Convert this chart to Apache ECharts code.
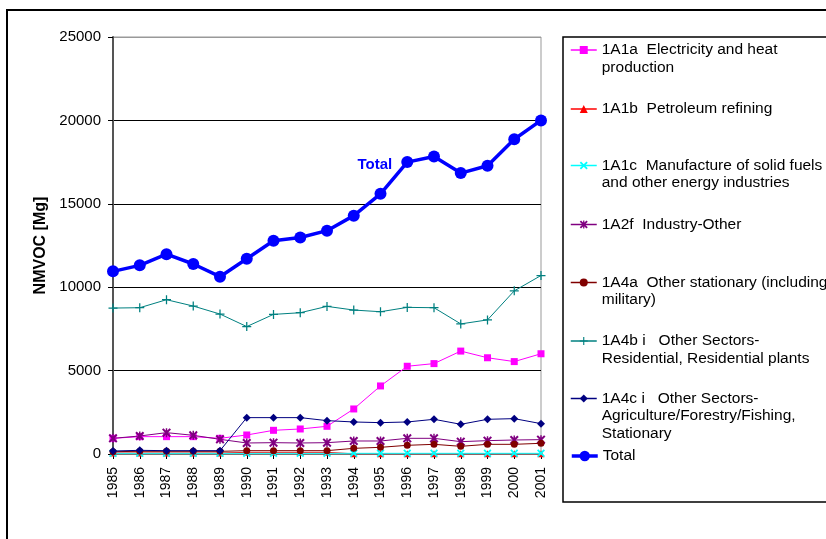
<!DOCTYPE html>
<html>
<head>
<meta charset="utf-8">
<script src="https://cdn.jsdelivr.net/npm/echarts@6/dist/echarts.min.js"></script>
<style>
  html, body { margin: 0; padding: 0; background: #fff; }
  #chart { width: 826px; height: 539px; }
</style>
</head>
<body>
<div id="chart"></div>
<script>
// NMVOC emissions by source category, 1985-2001 (Mg)
const years = ['1985','1986','1987','1988','1989','1990','1991','1992','1993','1994','1995','1996','1997','1998','1999','2000','2001'];

const electricityHeat   = [940, 1040, 1040, 1040, 940, 1140, 1420, 1500, 1660, 2700, 4080, 5260, 5420, 6170, 5770, 5540, 6010];
const petroleumRefining = [60, 60, 60, 60, 60, 100, 100, 100, 100, 10, 10, 10, 10, 10, 10, 10, 10];
const solidFuels        = [40, 40, 40, 40, 40, 40, 40, 40, 40, 40, 40, 40, 40, 40, 40, 40, 40];
const industryOther     = [940, 1080, 1280, 1120, 880, 660, 680, 660, 680, 780, 780, 940, 940, 740, 800, 840, 860];
const otherStationary   = [140, 160, 160, 160, 160, 200, 200, 200, 200, 340, 400, 520, 580, 460, 580, 580, 640];
const residential       = [8750, 8770, 9250, 8870, 8390, 7640, 8370, 8470, 8850, 8630, 8530, 8790, 8770, 7800, 8040, 9780, 10700];
const agriculture       = [180, 220, 200, 200, 200, 2180, 2180, 2180, 2000, 1920, 1880, 1920, 2080, 1780, 2080, 2120, 1820];
const total             = [10950, 11310, 11980, 11390, 10630, 11710, 12780, 12980, 13390, 14290, 15600, 17500, 17840, 16840, 17280, 18870, 20000];

const seriesNames = [
  '1A1a  Electricity and heat\nproduction',
  '1A1b  Petroleum refining',
  '1A1c  Manufacture of solid fuels\nand other energy industries',
  '1A2f  Industry-Other',
  '1A4a  Other stationary (including\nmilitary)',
  '1A4b i   Other Sectors-\nResidential, Residential plants',
  '1A4c i   Other Sectors-\nAgriculture/Forestry/Fishing,\nStationary',
  'Total'
];
const yTicks = [0, 5000, 10000, 15000, 20000, 25000];
const totalLabelYear = '1996';

const FONT = '"Liberation Sans", Arial, sans-serif';

// marker shapes
const SYM_X = 'path://M1.6,0L5,3.4L8.4,0L10,1.6L6.6,5L10,8.4L8.4,10L5,6.6L1.6,10L0,8.4L3.4,5L0,1.6Z';
const SYM_STAR = 'path://M1.6,0L5,3.4L8.4,0L10,1.6L6.6,5L10,8.4L8.4,10L5,6.6L1.6,10L0,8.4L3.4,5L0,1.6Z M4.2,0L5.8,0L5.8,10L4.2,10Z';
const SYM_PLUS = 'path://M4.3,0L5.7,0L5.7,4.3L10,4.3L10,5.7L5.7,5.7L5.7,10L4.3,10L4.3,5.7L0,5.7L0,4.3L4.3,4.3Z';

const styles = [
  { color: '#FF00FF', symbol: 'rect', size: 7, width: 1 },
  { color: '#FF0000', symbol: 'triangle', size: 7, width: 1 },
  { color: '#00FFFF', symbol: SYM_X, size: 8, width: 1 },
  { color: '#800080', symbol: SYM_STAR, size: 9, width: 1 },
  { color: '#800000', symbol: 'circle', size: 7, width: 1 },
  { color: '#008080', symbol: SYM_PLUS, size: 9, width: 1 },
  { color: '#000080', symbol: 'diamond', size: 8, width: 1 },
  { color: '#0000FF', symbol: 'circle', size: 12, width: 3.5 }
];
const values = [electricityHeat, petroleumRefining, solidFuels, industryOther, otherStationary, residential, agriculture, total];

// legend layout: centre of each entry's first text line
const legendFirstLine = [50, 109, 165.5, 224.5, 282.5, 341, 398.5, 456];
const LH = 17.5;

const series = values.map((vals, i) => {
  const st = styles[i];
  const isTotal = i === values.length - 1;
  return {
    name: seriesNames[i],
    type: 'line',
    data: isTotal
      ? vals.map((v, k) => years[k] === totalLabelYear
          ? { value: v, label: { show: true, formatter: 'Total', position: 'left', distance: 9,
              color: '#0000FF', fontWeight: 'bold', fontSize: 15, fontFamily: FONT, offset: [0, 3] } }
          : v)
      : vals,
    symbol: st.symbol,
    symbolSize: st.size,
    symbolKeepAspect: true,
    showAllSymbol: true,
    lineStyle: { color: st.color, width: st.width },
    itemStyle: { color: st.color },
    z: 2 + i,
    emphasis: { disabled: true }
  };
});

// one legend per entry; blank leading lines keep the icon level with the first text line
const legends = seriesNames.map((name, i) => {
  const n = name.split('\n').length;
  const isTotal = i === seriesNames.length - 1;
  return {
    data: [name],
    left: 570,
    top: legendFirstLine[i] - (2 * n - 1) * LH / 2,
    padding: 0,
    itemWidth: 26,
    itemHeight: isTotal ? 13 : 10,
    lineStyle: { width: isTotal ? 3.5 : 1.5 },
    selectedMode: false,
    formatter: (nm) => '\n'.repeat(n - 1) + nm,
    textStyle: { fontFamily: FONT, fontSize: 15.5, color: '#000', lineHeight: LH }
  };
});

const chart = echarts.init(document.getElementById('chart'), null, { renderer: 'canvas' });
chart.setOption({
  animation: false,
  backgroundColor: '#fff',
  grid: { left: 113, right: 285, top: 37, bottom: 85, show: true, borderColor: '#999', borderWidth: 1 },
  xAxis: {
    type: 'category',
    data: years,
    boundaryGap: false,
    axisLine: { lineStyle: { color: '#777', width: 1 } },
    axisTick: { alignWithLabel: true, length: 5, lineStyle: { color: '#000' } },
    axisLabel: { rotate: 90, margin: 13, fontSize: 14, fontFamily: FONT, color: '#000' },
    splitLine: { show: false }
  },
  yAxis: {
    type: 'value',
    min: yTicks[0],
    max: yTicks[yTicks.length - 1],
    interval: yTicks[1] - yTicks[0],
    name: 'NMVOC [Mg]',
    nameLocation: 'middle',
    nameGap: 56,
    nameTextStyle: { fontFamily: FONT, fontSize: 16, fontWeight: 'bold', color: '#000' },
    axisLine: { show: true, lineStyle: { color: '#555', width: 2 } },
    axisTick: { show: true, length: 5, lineStyle: { color: '#000' } },
    axisLabel: { margin: 12, fontSize: 15, fontFamily: FONT, color: '#000', formatter: (v) => String(v) },
    splitLine: { show: true, lineStyle: { color: ['#000', '#000', '#000', '#000', '#000', '#999'], width: 1 } }
  },
  legend: legends,
  series: series,
  graphic: [
    { type: 'rect', shape: { x: 7, y: 10, width: 840, height: 560 }, style: { fill: 'none', stroke: '#000', lineWidth: 2 }, silent: true },
    { type: 'rect', shape: { x: 563, y: 37, width: 300, height: 465 }, style: { fill: 'none', stroke: '#000', lineWidth: 1.5 }, silent: true }
  ]
});
</script>
</body>
</html>
